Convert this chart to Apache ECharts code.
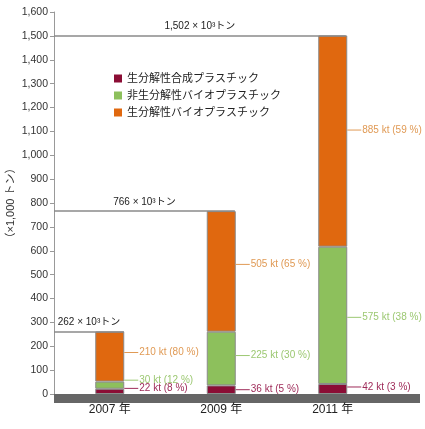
<!DOCTYPE html>
<html>
<head>
<meta charset="utf-8">
<script src="https://cdn.jsdelivr.net/npm/echarts@6/dist/echarts.min.js"></script>
<style>
  html, body { margin: 0; padding: 0; background: #fff; }
  #chart { width: 425px; height: 429px; }
</style>
</head>
<body>
<div id="chart"></div>
<script>
  // 年ごとの生産量 (×1,000 トン)
  var years = [2007, 2009, 2011];
  var synthetic = [22, 36, 42];      // 生分解性合成プラスチック
  var nonBio = [30, 225, 575];       // 非生分解性バイオプラスチック
  var bioDeg = [210, 505, 885];      // 生分解性バイオプラスチック
  var totals = [262, 766, 1502];
  var syntheticPct = [8, 5, 3];
  var nonBioPct = [12, 30, 38];
  var bioDegPct = [80, 65, 59];
  var seriesNames = ['生分解性合成プラスチック', '非生分解性バイオプラスチック', '生分解性バイオプラスチック'];

  var font = "'Liberation Sans', 'Noto Sans CJK JP', sans-serif";
  var barWidth = 29;
  // 床と合計線用の年スケール (2006 年 〜)
  var xMin = 2006, xMax = 2012.6;
  var pxPerYear = (425 - 54 - 5) / (xMax - xMin);
  var halfBar = (barWidth / 2) / pxPerYear;

  var myChart = echarts.init(document.getElementById('chart'));

  function makeSeries(name, values, pcts, color, textColor, dy) {
    return {
      name: name,
      type: 'bar',
      stack: 'total',
      barWidth: barWidth,
      itemStyle: { color: color, borderColor: '#8a8a8a', borderWidth: 1 },
      data: values.map(function (v, i) {
        return { value: v, label: { offset: [0, dy[i]] } };
      }),
      label: {
        show: true,
        position: 'right',
        distance: 0,
        formatter: function (p) {
          return '{l|}{t|' + values[p.dataIndex] + ' kt (' + pcts[p.dataIndex] + ' %)}';
        },
        rich: {
          l: { width: 14, height: 1, backgroundColor: textColor },
          t: { color: textColor, fontSize: 10, fontFamily: font, padding: [0, 0, 0, 1] }
        }
      }
    };
  }

  myChart.setOption({
    animation: false,
    textStyle: { fontFamily: font },
    grid: [
      { left: 54, right: 36.5, top: 12, bottom: 35, containLabel: false, outerBoundsMode: 'none' },
      { left: 54, right: 5, top: 12, bottom: 35, containLabel: false, outerBoundsMode: 'none' }
    ],
    legend: {
      orient: 'vertical',
      left: 114,
      top: 73,
      padding: 0,
      itemWidth: 8,
      itemHeight: 8,
      itemGap: 6,
      icon: 'rect',
      selectedMode: false,
      itemStyle: { borderWidth: 0 },
      data: seriesNames,
      textStyle: { color: '#222', fontSize: 11, fontFamily: font }
    },
    xAxis: [
      {
        type: 'category',
        gridIndex: 0,
        data: years.map(function (y) { return y + ' 年'; }),
        axisLine: { show: false },
        axisTick: { show: false },
        axisLabel: { color: '#222', fontSize: 12, margin: 10 }
      },
      {
        type: 'value',
        gridIndex: 1,
        min: xMin,
        max: xMax,
        offset: 4.5,
        splitLine: { show: false },
        axisTick: { show: false },
        axisLabel: { show: false },
        axisLine: { onZero: false, lineStyle: { color: '#666', width: 9, cap: 'butt' } }
      }
    ],
    yAxis: [
      {
        type: 'value',
        gridIndex: 0,
        min: 0,
        max: 1600,
        interval: 100,
        name: '（×1,000 トン）',
        nameLocation: 'middle',
        nameGap: 38,
        nameMoveOverlap: false,
        nameTextStyle: { color: '#333', fontSize: 11 },
        splitLine: { show: false },
        axisLine: { show: true, lineStyle: { color: '#999' } },
        axisTick: { show: true, length: 4, lineStyle: { color: '#999' } },
        axisLabel: { color: '#333', fontSize: 10.5, margin: 6 }
      },
      {
        type: 'value',
        gridIndex: 1,
        min: 0,
        max: 1600,
        show: false
      }
    ],
    series: [
      makeSeries(seriesNames[0], synthetic, syntheticPct, '#8b0d35', '#9e2a58', [-3, 0, -2]),
      makeSeries(seriesNames[1], nonBio, nonBioPct, '#8dc05c', '#9cc872', [-5, -3, 2]),
      makeSeries(seriesNames[2], bioDeg, bioDegPct, '#e0680f', '#e09a55', [-4, -7, -11]),
      {
        name: 'totals',
        type: 'line',
        xAxisIndex: 1,
        yAxisIndex: 1,
        data: [],
        markLine: {
          silent: true,
          symbol: 'none',
          lineStyle: { color: '#8a8a8a', width: 1.5, type: 'solid' },
          label: {
            position: 'insideMiddleTop',
            formatter: '{b}',
            color: '#222',
            fontSize: 10,
            fontFamily: font,
            distance: 4
          },
          data: totals.map(function (t, i) {
            return [
              { name: t.toLocaleString('en-US') + ' × 10³トン', coord: [xMin, t] },
              { coord: [years[i] + halfBar, t] }
            ];
          })
        }
      }
    ]
  });
</script>
</body>
</html>
